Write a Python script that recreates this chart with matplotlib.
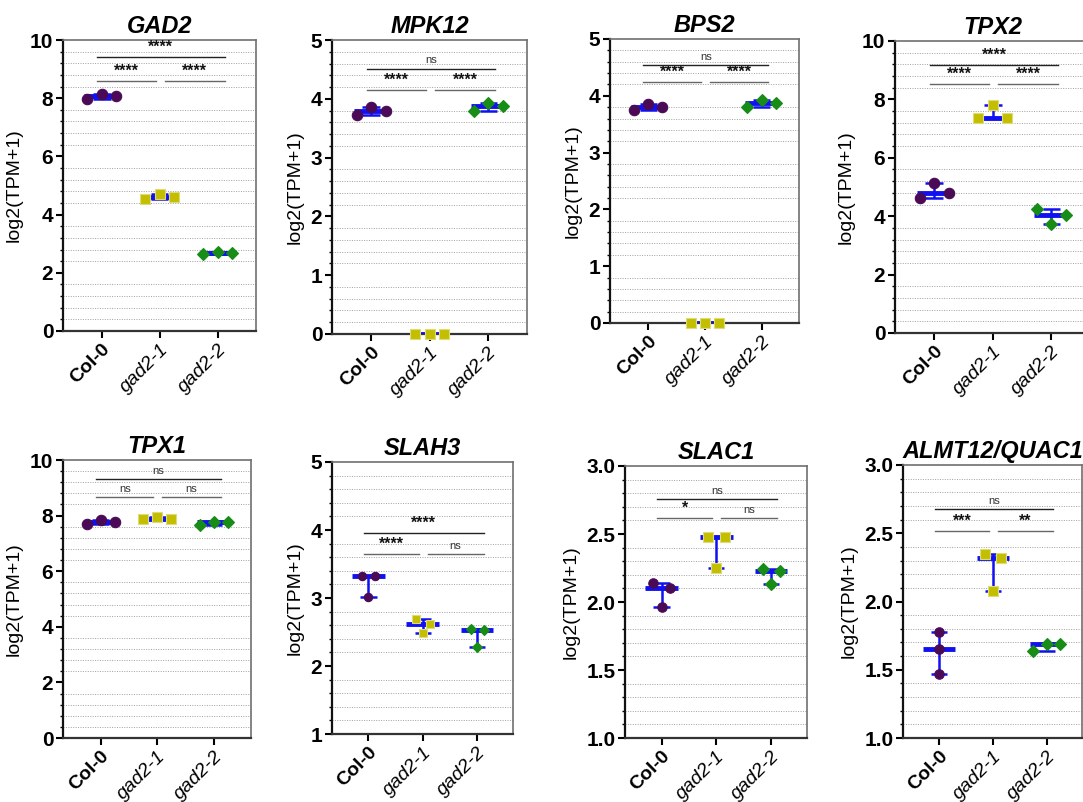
import numpy as np
import matplotlib
matplotlib.use("Agg")
import matplotlib.pyplot as plt
from matplotlib.ticker import MultipleLocator, FormatStrFormatter

plt.rcParams['font.family'] = ['Liberation Sans', 'DejaVu Sans']

# ---------------- data ----------------
groups = ["Col-0", "gad2-1", "gad2-2"]
genes = ["GAD2", "MPK12", "BPS2", "TPX2", "TPX1", "SLAH3", "SLAC1", "ALMT12/QUAC1"]

gad2_vals = [[7.98, 8.16, 8.06], [4.52, 4.72, 4.61], [2.63, 2.70, 2.67]]
mpk12_vals = [[3.73, 3.86, 3.80], [0.0, 0.0, 0.0], [3.80, 3.93, 3.87]]
bps2_vals = [[3.75, 3.86, 3.81], [0.0, 0.0, 0.0], [3.80, 3.93, 3.87]]
tpx2_vals = [[4.62, 5.15, 4.81], [7.35, 7.80, 7.38], [4.25, 3.72, 4.05]]
tpx1_vals = [[7.70, 7.84, 7.77], [7.87, 7.94, 7.89], [7.66, 7.78, 7.76]]
slah3_vals = [[3.33, 3.01, 3.33], [2.69, 2.49, 2.62], [2.55, 2.28, 2.53]]
slac1_vals = [[2.14, 1.96, 2.10], [2.48, 2.25, 2.48], [2.24, 2.13, 2.23]]
almt12_vals = [[1.78, 1.65, 1.47], [2.35, 2.08, 2.32], [1.64, 1.69, 1.69]]

# significance: (Col-0 vs gad2-1, gad2-1 vs gad2-2, Col-0 vs gad2-2)
gad2_sig = ["****", "****", "****"]
mpk12_sig = ["****", "****", "ns"]
bps2_sig = ["****", "****", "ns"]
tpx2_sig = ["****", "****", "****"]
tpx1_sig = ["ns", "ns", "ns"]
slah3_sig = ["****", "ns", "****"]
slac1_sig = ["*", "ns", "ns"]
almt12_sig = ["***", "**", "ns"]

all_vals = [gad2_vals, mpk12_vals, bps2_vals, tpx2_vals,
            tpx1_vals, slah3_vals, slac1_vals, almt12_vals]
all_sig = [gad2_sig, mpk12_sig, bps2_sig, tpx2_sig,
           tpx1_sig, slah3_sig, slac1_sig, almt12_sig]

# ---------------- styles / layout ----------------
W, H = 1083, 802
rects = [(63, 40, 256, 331), (332, 40, 527, 334), (610, 39, 799, 323), (895, 41, 1090, 333),
         (63, 460, 251, 738), (332, 462, 513, 734), (625, 466, 807, 738), (903, 465, 1082, 738)]
ylims = [(0, 10), (0, 5), (0, 5), (0, 10), (0, 10), (1, 5), (1, 3), (1, 3)]
major = [2, 1, 1, 2, 2, 1, 0.5, 0.5]
minor = [0.4, 0.2, 0.2, 0.4, 0.4, 0.2, 0.1, 0.1]
fmt = ["%d", "%d", "%d", "%d", "%d", "%d", "%.1f", "%.1f"]
bracket_y = [(8.58, 9.40), (4.15, 4.51), (4.24, 4.54), (8.54, 9.19),
             (8.66, 9.31), (3.65, 3.96), (2.616, 2.755), (2.516, 2.677)]
wide = [-0.25, 0.0, 0.25]
mid = [-0.15, 0.0, 0.16]
narrow = [-0.12, 0.0, 0.13]
jitter = [[wide] * 3, [wide] * 3, [wide] * 3, [wide] * 3, [wide] * 3,
          [narrow] * 3, [mid] * 3, [[0, 0, 0], mid, wide]]
msize = [7.5, 7.5, 7.5, 7.5, 7.5, 6.0, 6.8, 6.8]

markers = ['o', 's', 'D']
mcolors = ['#4B0A55', '#C4BE00', '#178C17']
medges = ['#4B0A55', '#DEDB7A', '#178C17']
blue = '#1010F0'

fig = plt.figure(figsize=(W / 100, H / 100), dpi=100)

for i in range(8):
    l, t, r, b = rects[i]
    ax = fig.add_axes([l / W, 1 - b / H, (r - l) / W, (b - t) / H])
    vals = all_vals[i]
    y0, y1 = ylims[i]
    rng = y1 - y0
    ax.set_xlim(-0.67, 2.66)
    ax.set_ylim(y0, y1)

    # grid on minor positions only
    ax.yaxis.set_major_locator(MultipleLocator(major[i]))
    ax.yaxis.set_minor_locator(MultipleLocator(minor[i]))
    ax.yaxis.set_major_formatter(FormatStrFormatter(fmt[i]))
    ax.grid(False)
    ax.grid(axis='y', which='minor', linestyle=(0, (1, 1.5)), color='#a0a0a0', linewidth=0.7)
    ax.set_axisbelow(True)

    for g in range(3):
        v = np.array(vals[g])
        med = np.median(v)
        lo, hi = v.min(), v.max()
        ax.vlines(g, lo, hi, color=blue, lw=1.8, zorder=3)
        ax.hlines([lo, hi], g - 0.15, g + 0.15, color=blue, lw=1.8, zorder=3)
        ax.hlines(med, g - 0.3, g + 0.3, color=blue, lw=3.5, zorder=3)
        xs = g + np.array(jitter[i][g])
        ms = msize[i] * (0.85 if markers[g] == 'D' else 1.0)
        ax.plot(xs, v, linestyle='none', marker=markers[g], ms=ms,
                mfc=mcolors[g], mec=medges[g], mew=0.8, zorder=4, clip_on=False)

    # significance brackets
    yl, yt = bracket_y[i]
    sig = all_sig[i]
    spans = [(-0.08, 0.93, yl, sig[0], '#666666'),
             (1.09, 2.12, yl, sig[1], '#666666'),
             (-0.08, 2.12, yt, sig[2], '#222222')]
    for xa, xb, yy, lab, col in spans:
        ax.plot([xa, xb], [yy, yy], color=col, lw=1.0, zorder=3)
        if lab == 'ns':
            ax.text((xa + xb) / 2, yy + 0.012 * rng, lab, ha='center', va='bottom',
                    fontsize=8, color='#333333')
        else:
            ax.text((xa + xb) / 2, yy + 0.008 * rng, lab, ha='center', va='bottom',
                    fontsize=11.5, color='#111111', fontweight='bold')

    # spines
    ax.spines['left'].set_linewidth(1.6)
    ax.spines['left'].set_color('#111111')
    ax.spines['bottom'].set_linewidth(1.6)
    ax.spines['bottom'].set_color('#333333')
    for s in ['top', 'right']:
        ax.spines[s].set_linewidth(1.2)
        ax.spines[s].set_color('#6f6f6f')

    ax.tick_params(axis='y', which='major', length=5, width=1.5, labelsize=15, pad=2)
    ax.tick_params(axis='y', which='minor', length=2.5, width=1.0)
    ax.tick_params(axis='x', which='major', length=5, width=1.5, labelsize=14, pad=2)
    for lab in ax.get_yticklabels():
        lab.set_fontweight('bold')

    ax.set_xticks([0, 1, 2])
    ax.set_xticklabels(groups, rotation=45, ha='right', rotation_mode='anchor')
    for k, lab in enumerate(ax.get_xticklabels()):
        if k == 0:
            lab.set_fontweight('bold')
        else:
            lab.set_fontstyle('italic')

    ax.set_ylabel("log2(TPM+1)", fontsize=14, labelpad=5)
    ax.set_title(genes[i], fontsize=17, fontweight='bold', fontstyle='italic', pad=5)

fig.savefig("out.png", dpi=100)
